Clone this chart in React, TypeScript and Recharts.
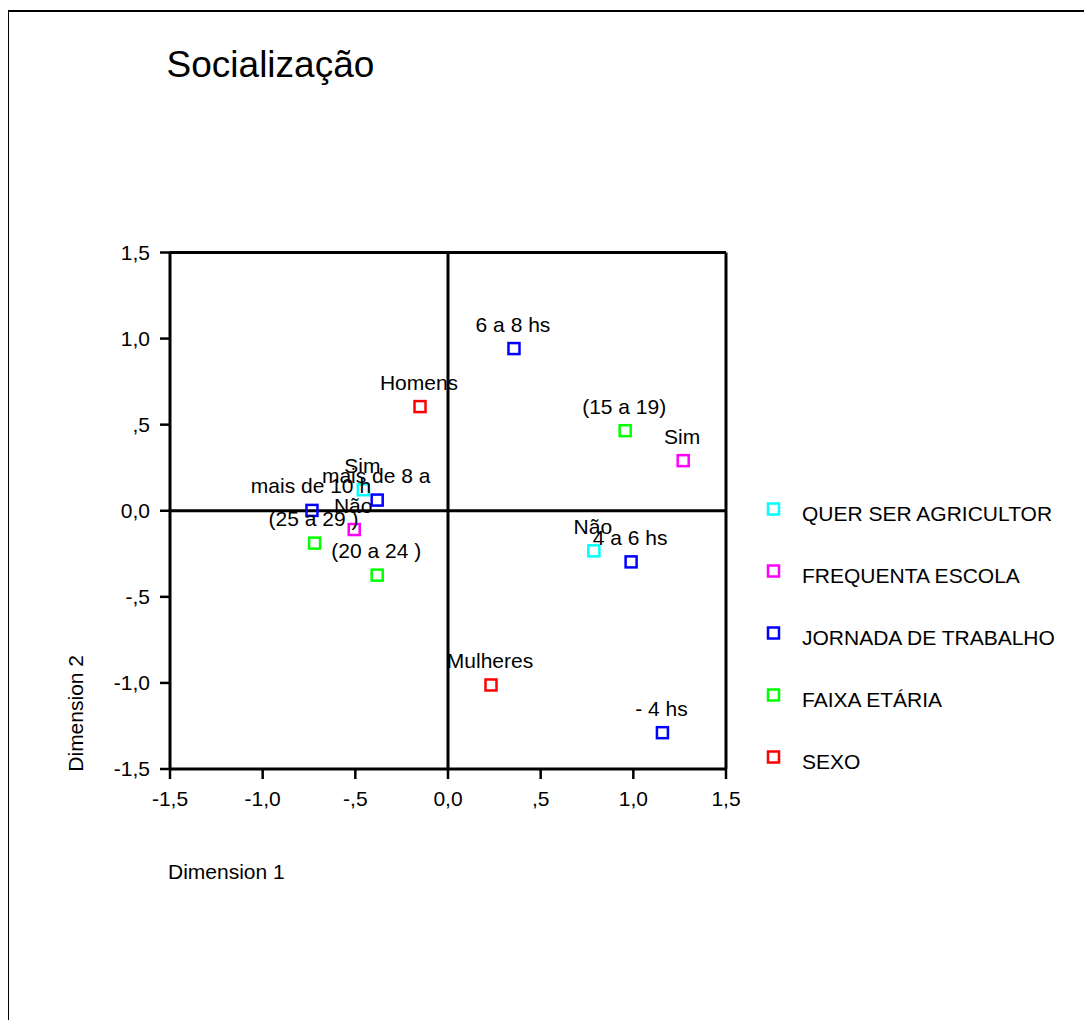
import React from "react";
import { ScatterChart, Scatter, XAxis, YAxis, ReferenceLine, Legend } from "recharts";

const FONT = "'Liberation Sans', Arial, sans-serif";

// axis ticks (SPSS style, comma decimals)
const tickValues = [-1.5, -1, -0.5, 0, 0.5, 1, 1.5];
const tickLabels = ["-1,5", "-1,0", "-,5", "0,0", ",5", "1,0", "1,5"];

// QUER SER AGRICULTOR
const querLabels = ["Sim", "Não"];
const querDim1 = [-0.457, 0.787];
const querDim2 = [0.122, -0.233];

// FREQUENTA ESCOLA
const escolaLabels = ["Sim", "Não"];
const escolaDim1 = [1.269, -0.506];
const escolaDim2 = [0.291, -0.109];

// JORNADA DE TRABALHO
const jornadaLabels = ["6 a 8 hs", "mais de 8 a", "mais de 10 h", "4 a 6 hs", "- 4 hs"];
const jornadaDim1 = [0.356, -0.382, -0.734, 0.988, 1.157];
const jornadaDim2 = [0.942, 0.062, 0.002, -0.297, -1.289];

// FAIXA ETÁRIA
const faixaLabels = ["(15 a 19)", "(25 a 29 )", "(20 a 24 )"];
const faixaDim1 = [0.956, -0.72, -0.382];
const faixaDim2 = [0.465, -0.188, -0.374];

// SEXO
const sexoLabels = ["Homens", "Mulheres"];
const sexoDim1 = [-0.151, 0.232];
const sexoDim2 = [0.605, -1.012];

const series = [
  { name: "QUER SER AGRICULTOR", color: "#00FFFF", labels: querLabels, dim1: querDim1, dim2: querDim2 },
  { name: "FREQUENTA ESCOLA", color: "#FF00FF", labels: escolaLabels, dim1: escolaDim1, dim2: escolaDim2 },
  { name: "JORNADA DE TRABALHO", color: "#0000FF", labels: jornadaLabels, dim1: jornadaDim1, dim2: jornadaDim2 },
  { name: "FAIXA ETÁRIA", color: "#00FF00", labels: faixaLabels, dim1: faixaDim1, dim2: faixaDim2 },
  { name: "SEXO", color: "#FF0000", labels: sexoLabels, dim1: sexoDim1, dim2: sexoDim2 },
];

const W = 1070;
const H = 990;

function makeShape(color: string) {
  return (props: any) => {
    const { cx, cy, payload } = props;
    return (
      <g>
        <rect x={cx - 5.5} y={cy - 5.5} width={11} height={11} fill="none" stroke={color} strokeWidth={2.5} />
        <text x={cx - 1} y={cy - 17} textAnchor="middle" fontSize={21} fontFamily={FONT} fill="#000">
          {payload.label}
        </text>
      </g>
    );
  };
}

function LegendBox() {
  return (
    <svg width={320} height={300} style={{ overflow: "visible" }}>
      {series.map((s, i) => (
        <g key={s.name}>
          <rect x={9} y={11.5 + i * 62} width={11} height={11} fill="none" stroke={s.color} strokeWidth={2.5} />
          <text x={43} y={28.5 + i * 62} fontSize={21} fontFamily={FONT} fill="#000">
            {s.name}
          </text>
        </g>
      ))}
    </svg>
  );
}

export default function App() {
  const axisProps = {
    type: "number" as const,
    domain: [-1.5, 1.5],
    ticks: tickValues,
    interval: 0 as const,
    allowDataOverflow: true,
    tickFormatter: (v: number) => tickLabels[tickValues.indexOf(v)] ?? String(v),
    axisLine: { stroke: "#000", strokeWidth: 3 },
    tickLine: { stroke: "#000", strokeWidth: 2.5 },
    tickSize: 10,
    tick: { fill: "#000", fontSize: 21, fontFamily: FONT },
  };

  return (
    <div
      style={{
        position: "relative",
        marginLeft: -1,
        marginTop: 2,
        width: 1084,
        height: 1010,
        borderLeft: "2px solid #000",
        borderTop: "2px solid #000",
        boxSizing: "border-box",
      }}
    >
      <div style={{ position: "absolute", left: 0, top: 0, width: W, height: H }}>
        <ScatterChart width={W} height={H} margin={{ top: 240.5, right: 353, bottom: 173, left: 101 }}>
          <XAxis dataKey="x" {...axisProps} height={60} tickMargin={12} />
          <YAxis dataKey="y" {...axisProps} width={60} tickMargin={10} />
          <ReferenceLine x={0} stroke="#000" strokeWidth={3} />
          <ReferenceLine y={0} stroke="#000" strokeWidth={3} />
          <ReferenceLine x={1.5} stroke="#000" strokeWidth={3} />
          <ReferenceLine y={1.5} stroke="#000" strokeWidth={3} />
          {series.map((s) => (
            <Scatter
              key={s.name}
              name={s.name}
              data={s.labels.map((label, i) => ({ x: s.dim1[i], y: s.dim2[i], label }))}
              fill={s.color}
              shape={makeShape(s.color)}
              isAnimationActive={false}
            />
          ))}
          <Legend
            layout="vertical"
            align="center"
            verticalAlign="middle"
            content={() => <LegendBox />}
            wrapperStyle={{ position: "absolute", left: 750, top: 480, width: 320, height: 300 }}
          />
        </ScatterChart>
      </div>
      <svg
        width={W}
        height={H}
        style={{ position: "absolute", left: 0, top: 0, pointerEvents: "none" }}
      >
        <text x={157.6} y={65.3} fontSize={37} fontFamily={FONT} fill="#000">
          Socialização
        </text>
        <text x={159} y={866.5} fontSize={21} fontFamily={FONT} fill="#000">
          Dimension 1
        </text>
        <text
          x={74.5}
          y={759.7}
          fontSize={21}
          fontFamily={FONT}
          fill="#000"
          transform="rotate(-90 74.5 759.7)"
        >
          Dimension 2
        </text>
      </svg>
    </div>
  );
}
